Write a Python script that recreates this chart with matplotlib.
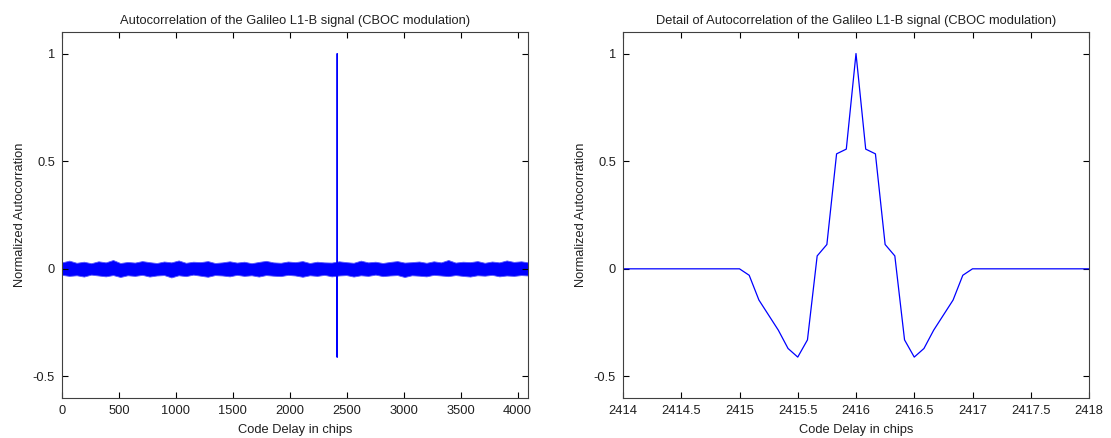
import numpy as np
import matplotlib
matplotlib.use("Agg")
import matplotlib.pyplot as plt

plt.rcParams['font.family'] = ['Liberation Sans', 'DejaVu Sans']

# ---- data ----
# detail of the main correlation peak, sampled every 1/12 chip
peak_delay = [2414.0, 2415.0, 2415.0833, 2415.1667, 2415.25, 2415.3333, 2415.4167,
              2415.5, 2415.5833, 2415.6667, 2415.75, 2415.8333, 2415.9167, 2416.0,
              2416.0833, 2416.1667, 2416.25, 2416.3333, 2416.4167, 2416.5, 2416.5833,
              2416.6667, 2416.75, 2416.8333, 2416.9167, 2417.0, 2418.0]
peak_corr = [0.0, 0.0, -0.03, -0.145, -0.215, -0.285, -0.37,
             -0.41, -0.33, 0.06, 0.113, 0.534, 0.556, 1.0,
             0.556, 0.534, 0.113, 0.06, -0.33, -0.41, -0.37,
             -0.285, -0.215, -0.145, -0.03, 0.0, 0.0]

# envelope of the side-lobe noise over the full code (every 64 chips, last at 4092)
noise_delay = list(range(0, 4096, 64)) + [4092]
noise_upper = [0.030, 0.038, 0.028, 0.033, 0.026, 0.035, 0.030, 0.041, 0.027, 0.032,
               0.029, 0.036, 0.031, 0.027, 0.034, 0.030, 0.039, 0.028, 0.033, 0.031,
               0.036, 0.027, 0.030, 0.035, 0.029, 0.033, 0.026, 0.032, 0.037, 0.030,
               0.028, 0.034, 0.031, 0.036, 0.027, 0.033, 0.030, 0.029, 0.035, 0.031,
               0.028, 0.038, 0.030, 0.033, 0.027, 0.032, 0.036, 0.029, 0.031, 0.034,
               0.028, 0.035, 0.030, 0.041, 0.029, 0.033, 0.031, 0.036, 0.028, 0.034,
               0.030, 0.039, 0.032, 0.035, 0.030]
noise_lower = [-0.028, -0.033, -0.030, -0.036, -0.027, -0.031, -0.035, -0.029, -0.038, -0.030,
               -0.033, -0.028, -0.036, -0.031, -0.029, -0.040, -0.030, -0.034, -0.027, -0.032,
               -0.037, -0.029, -0.031, -0.035, -0.028, -0.033, -0.030, -0.036, -0.029, -0.032,
               -0.034, -0.028, -0.031, -0.037, -0.030, -0.033, -0.028, -0.035, -0.031, -0.029,
               -0.036, -0.030, -0.033, -0.027, -0.034, -0.031, -0.029, -0.038, -0.030, -0.032,
               -0.035, -0.028, -0.031, -0.034, -0.029, -0.033, -0.036, -0.030, -0.032, -0.028,
               -0.035, -0.031, -0.033, -0.029, -0.031]

left_xticks = [0, 500, 1000, 1500, 2000, 2500, 3000, 3500, 4000]
right_xticks = [2414, 2414.5, 2415, 2415.5, 2416, 2416.5, 2417, 2417.5, 2418]
right_xticklabels = ['2414', '2414.5', '2415', '2415.5', '2416', '2416.5', '2417', '2417.5', '2418']
yticks = [-0.5, 0, 0.5, 1]
yticklabels = ['-0.5', '0', '0.5', '1']

title_left = 'Autocorrelation of the Galileo L1-B signal (CBOC modulation)'
title_right = 'Detail of Autocorrelation of the Galileo L1-B signal (CBOC modulation)'
xlabel = 'Code Delay in chips'
ylabel = 'Normalized Autocorration'

# ---- figure ----
W, H = 1111, 438
fig = plt.figure(figsize=(W / 100, H / 100), dpi=100)
fs = 9.3
blue = (0, 0, 1)
axcol = '#404040'

def style(ax):
    ax.set_ylim(-0.6, 1.1)
    ax.set_yticks(yticks)
    ax.set_yticklabels(yticklabels)
    ax.tick_params(direction='in', length=4, width=0.8, colors='black',
                   labelcolor='#202020', top=True, right=True, labelsize=fs, pad=5)
    for s in ax.spines.values():
        s.set_color(axcol)
        s.set_linewidth(0.8)
    ax.set_xlabel(xlabel, fontsize=fs, labelpad=5, color='#202020')
    ax.set_ylabel(ylabel, fontsize=fs, labelpad=5, color='#202020')

ax1 = fig.add_axes([62 / W, 1 - 398 / H, 466 / W, 366 / H])
ax1.fill_between(noise_delay, noise_lower, noise_upper, color=blue, linewidth=0.6,
                 edgecolor=(0.35, 0.35, 1.0))
ax1.plot(peak_delay, peak_corr, color=blue, linewidth=0.8)
ax1.set_xlim(0, 4092)
ax1.set_xticks(left_xticks)
style(ax1)
ax1.set_title(title_left, fontsize=fs, pad=6, color='#202020')

ax2 = fig.add_axes([623 / W, 1 - 398 / H, 466 / W, 366 / H])
ax2.plot(peak_delay, peak_corr, color=blue, linewidth=0.9)
ax2.set_xlim(2414, 2418)
ax2.set_xticks(right_xticks)
ax2.set_xticklabels(right_xticklabels)
style(ax2)
ax2.set_title(title_right, fontsize=fs, pad=6, color='#202020')

fig.savefig('out.png', dpi=100)
